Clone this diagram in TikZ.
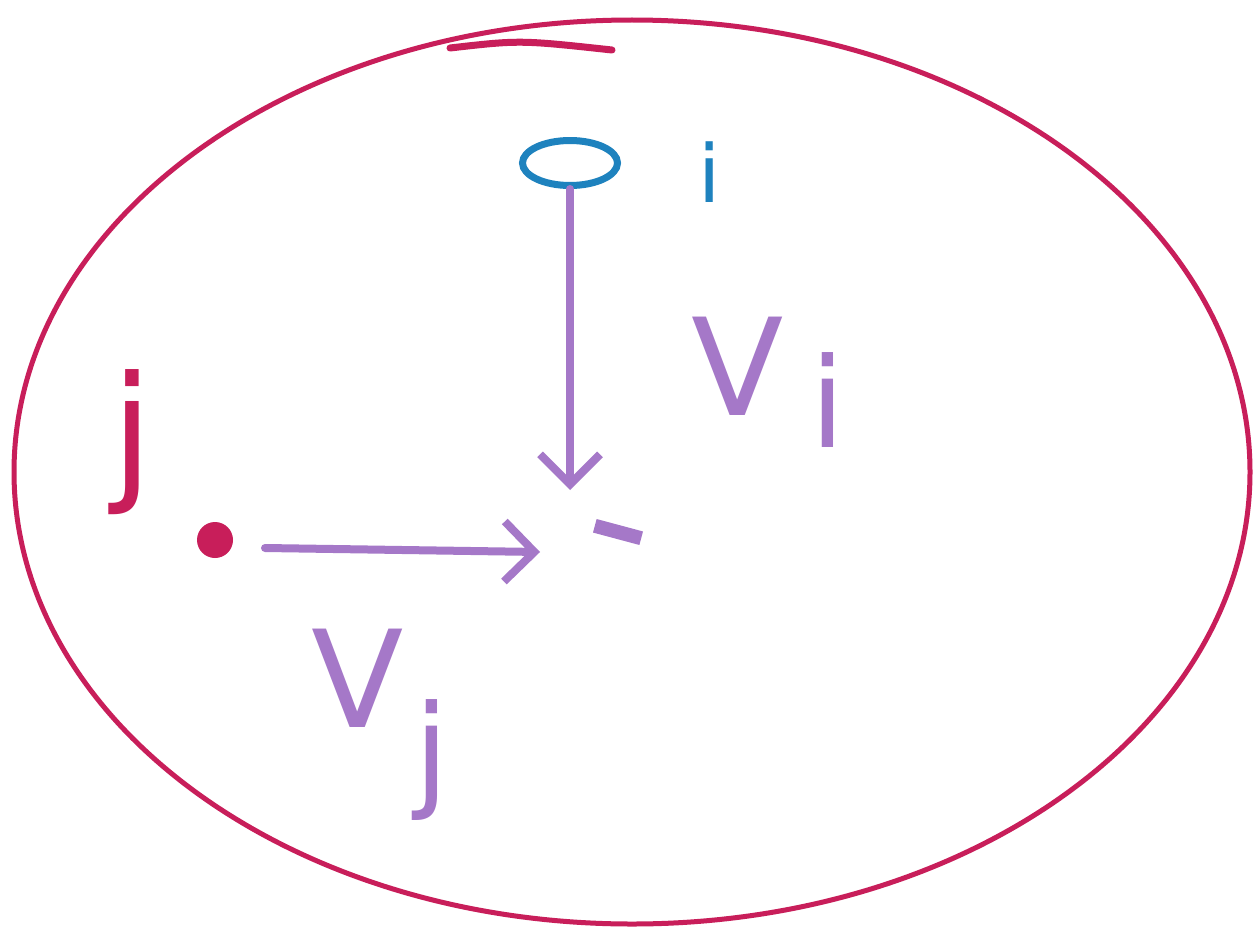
\documentclass[tikz,border=0pt]{standalone}
\usepackage{fontspec}
\setmainfont{DejaVu Sans}
\usetikzlibrary{arrows.meta,shapes.geometric}
\definecolor{crim}{RGB}{200,30,90}
\definecolor{pur}{RGB}{165,120,200}
\definecolor{blu}{RGB}{30,130,190}
\tikzset{
  outline/.style={draw=crim,line width=5pt},
  vec/.style={draw=pur,line width=8pt,line cap=round,-{Straight Barb[length=30pt,width=60pt,line width=8pt]}},
  lbl/.style={text=pur,font=\fontsize{135}{135}\selectfont},
  sub/.style={text=pur,font=\fontsize{125}{125}\selectfont},
}
\begin{document}
\begin{tikzpicture}[x=1pt,y=-1pt]
\useasboundingbox[fill=white] (0,0) rectangle (1257,934);
% outline
\draw[outline] (632,472) ellipse [x radius=618,y radius=452];
\draw[outline,line cap=round,line width=7pt] (450,48) .. controls (520,40) .. (612,50);
% points
\node[draw=blu,line width=7pt,ellipse,minimum width=95pt,minimum height=45pt,inner sep=0] (pi) at (570,163) {};
\node[text=blu,font=\fontsize{80}{80}\selectfont] (li) at (710,172) {i};
\node[fill=crim,circle,minimum size=36pt,inner sep=0] (pj) at (215,540) {};
\node[text=crim,font=\fontsize{150}{150}\selectfont] (lj) at (132,442) {j};
\node[fill=pur,minimum width=48pt,minimum height=14pt,inner sep=0,rotate=-15] (pc) at (618,532) {};
\coordinate (ti) at (570,490);
\coordinate (tj) at (540,552);
\coordinate (sj) at (265,548);
% vectors
\draw[vec] (pi.south) -- (ti);
\draw[vec] (sj) -- (tj);
% labels
\node[lbl] (vi) at (738,366) {V};
\node[sub] (vii) at (828,400) {i};
\node[lbl] (vj) at (358,678) {V};
\node[sub] (vjj) at (432,760) {j};
\end{tikzpicture}
\end{document}
